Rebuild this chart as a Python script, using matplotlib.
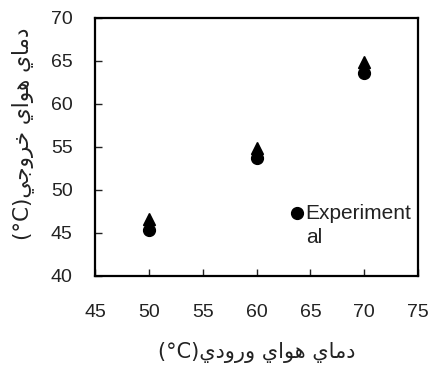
import matplotlib
matplotlib.use('Agg')
import matplotlib.pyplot as plt

#data
inlet = [50, 60, 70]
exp_out = [45.3, 53.7, 63.6]
model_out = [46.6, 54.9, 64.9]
xticks = [45, 50, 55, 60, 65, 70, 75]
yticks = [40, 45, 50, 55, 60, 65, 70]

#persian labels written in visual order with presentation forms
#(matplotlib does no arabic shaping)
w_damay = '\uFEF1\uFE8E\uFEE3\uFEA9'        # دمای
w_havay = '\uFEF1\uFE8D\uFEEE\uFEEB'        # هوای
w_vorudi = '\uFEF1\uFEA9\uFEED\uFEAD\uFEED' # ورودی
w_khoruji = '\uFEF2\uFE9F\uFEED\uFEAE\uFEA7' # خروجی
xlabel = '(°C)' + w_vorudi + ' ' + w_havay + ' ' + w_damay
ylabel = '(°C)' + w_khoruji + ' ' + w_havay + ' ' + w_damay

fam = ['Liberation Sans', 'DejaVu Sans']
plt.rcParams['font.family'] = fam

fig = plt.figure(figsize=(4.28, 3.65), dpi=100)
ax = fig.add_axes([0.222, 0.244, 0.755, 0.707])

ax.plot(inlet, model_out, linestyle='none', marker='^', color='black', markersize=8)
ax.plot(inlet, exp_out, linestyle='none', marker='o', color='black', markersize=8.5,
        label='Experiment\nal')

ax.set_xlim(45, 75)
ax.set_ylim(40, 70)
ax.set_xticks(xticks)
ax.set_yticks(yticks)
ax.tick_params(direction='in', length=5, width=1, labelsize=14, colors='#222222')
ax.tick_params(axis='x', pad=20)
ax.tick_params(axis='y', pad=16)
for s in ax.spines.values():
    s.set_linewidth(1.6)

ax.set_xlabel(xlabel, fontsize=15, family=['DejaVu Sans'], labelpad=15, color='#222222')
ax.set_ylabel(ylabel, fontsize=15.5, family=['DejaVu Sans'], color='#222222')
ax.yaxis.set_label_coords(-0.19, 0.55)

leg = ax.legend(loc='upper left', bbox_to_anchor=(0.581, 0.31), frameon=False,
                handlelength=0.6, handletextpad=0.1, fontsize=15, labelspacing=0.2,
                borderaxespad=0)
for t in leg.get_texts():
    t.set_color('#222222')
    t.set_linespacing(1.3)
#put the legend marker level with the first text line
hl = leg.legend_handles[0]
hl.set_ydata([y + 9 for y in hl.get_ydata()])

fig.savefig('out.png', dpi=100)
